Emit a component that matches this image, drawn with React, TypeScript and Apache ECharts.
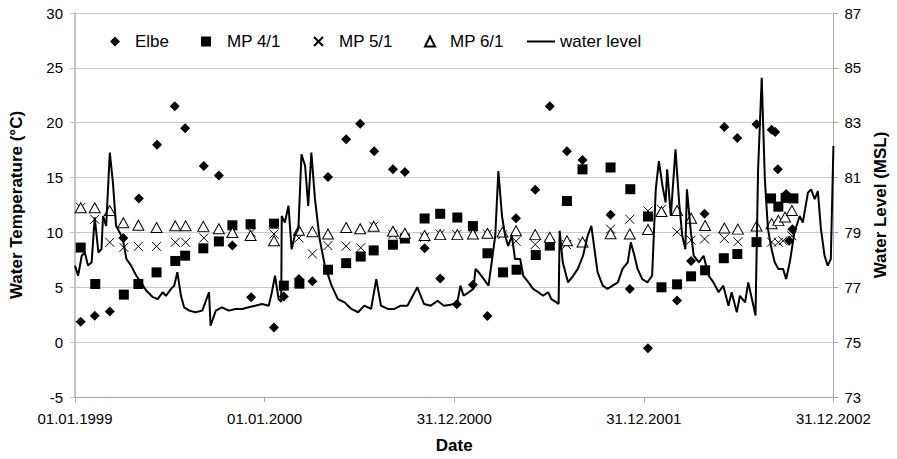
import React, { useEffect, useRef } from "react";
import * as echarts from "echarts";

// Day offsets are counted from 01.01.1999
const BASE_DATE = Date.UTC(1999, 0, 1);
const DAY_MS = 86400000;
const LEVEL_AXIS_BASE = 73; // right axis starts at 73 m MSL

const xAxisMaxDay = 1460;
const xTickStepDays = 365;

const elbeDays = [11, 38, 67, 93, 123, 158, 192, 212, 248, 277, 303, 339, 383, 402, 431, 457, 487, 522, 549, 576, 612, 635, 673, 703, 735, 766, 794, 849, 886, 914, 947, 977, 1031, 1068, 1103, 1159, 1186, 1212, 1250, 1275, 1312, 1341, 1348, 1353, 1369, 1375, 1381];
const elbeTemp = [1.87, 2.4, 2.8, 9.5, 13.1, 18.0, 21.5, 19.5, 16.05, 15.2, 8.8, 4.1, 1.33, 4.15, 5.75, 5.55, 15.05, 18.5, 19.9, 17.4, 15.75, 15.5, 8.55, 5.8, 3.45, 5.22, 2.38, 11.3, 13.9, 21.5, 17.4, 16.6, 11.6, 4.85, -0.55, 3.8, 7.4, 11.7, 19.6, 18.6, 19.85, 19.35, 19.15, 15.75, 13.5, 9.24, 10.3];

const mp41Days = [11, 39, 94, 122, 157, 193, 212, 247, 277, 303, 338, 383, 402, 432, 487, 522, 550, 575, 612, 635, 673, 703, 736, 766, 794, 824, 850, 887, 914, 947, 977, 1031, 1069, 1103, 1129, 1159, 1186, 1213, 1249, 1275, 1312, 1340, 1354, 1368, 1383];
const mp41Temp = [8.62, 5.3, 4.33, 5.3, 6.36, 7.4, 7.88, 8.55, 9.18, 10.65, 10.75, 10.8, 5.15, 5.33, 6.6, 7.2, 7.8, 8.36, 8.88, 9.45, 11.27, 11.7, 11.36, 10.58, 8.1, 6.36, 6.6, 7.94, 8.8, 12.86, 15.75, 15.92, 13.94, 11.45, 5.0, 5.27, 6.0, 6.55, 7.65, 8.03, 9.12, 13.1, 12.35, 13.15, 13.1];

const mp51Days = [11, 38, 67, 94, 122, 157, 193, 213, 248, 303, 339, 383, 431, 457, 487, 522, 550, 575, 612, 635, 673, 703, 735, 766, 794, 823, 849, 886, 914, 946, 977, 1031, 1068, 1103, 1129, 1159, 1186, 1212, 1250, 1276, 1312, 1341, 1354, 1363, 1380];
const mp51Temp = [12.27, 11.2, 9.1, 8.64, 8.73, 8.73, 9.1, 9.1, 9.5, 10.1, 10.0, 9.85, 9.5, 8.05, 8.8, 8.75, 8.6, 10.55, 9.8, 9.4, 9.55, 9.85, 9.8, 9.8, 9.85, 9.8, 9.2, 8.9, 8.94, 8.9, 9.05, 10.3, 11.2, 11.96, 12.1, 10.05, 9.3, 9.4, 9.45, 9.15, 9.1, 9.12, 9.1, 9.24, 9.7];

const mp61Days = [11, 38, 67, 93, 122, 157, 193, 213, 247, 277, 303, 338, 383, 431, 457, 487, 522, 549, 575, 612, 635, 673, 703, 736, 766, 794, 823, 849, 886, 914, 947, 977, 1031, 1068, 1103, 1129, 1159, 1186, 1213, 1250, 1276, 1312, 1341, 1354, 1367, 1380];
const mp61Temp = [12.25, 12.25, 12.0, 10.88, 10.66, 10.45, 10.6, 10.6, 10.55, 10.33, 10.0, 9.72, 9.24, 10.2, 10.07, 9.85, 10.45, 10.33, 10.57, 10.1, 9.92, 9.72, 9.8, 9.8, 9.85, 9.92, 10.03, 10.15, 9.8, 9.55, 9.24, 9.12, 9.88, 9.85, 10.27, 11.9, 12.0, 11.3, 10.63, 10.4, 10.3, 10.58, 10.8, 11.1, 11.4, 12.0];

const waterDays = [
  0, 6, 13, 19, 25, 32, 38, 45, 51, 54,
  60, 67, 73, 79, 86, 92, 99, 108, 118, 127,
  137, 150, 159, 169, 175, 185, 191, 197, 204, 210,
  220, 232, 245, 258, 261, 271, 283, 296, 309, 322,
  334, 347, 360, 373, 379, 385, 392, 397, 398, 404,
  411, 417, 423, 430, 436, 443, 449, 455, 462, 471,
  481, 494, 506, 519, 532, 545, 557, 570, 580, 589,
  602, 615, 627, 640, 659, 672, 685, 698, 710, 723,
  736, 742, 748, 758, 767, 771, 777, 787, 796, 803,
  809, 815, 822, 828, 834, 841, 847, 857, 863, 873,
  882, 892, 901, 911, 917, 927, 931, 933, 939, 949,
  959, 968, 978, 987, 994, 1000, 1006, 1016, 1025, 1035,
  1045, 1054, 1064, 1070, 1077, 1083, 1092, 1102, 1111, 1118,
  1124, 1131, 1137, 1140, 1147, 1156, 1163, 1169, 1175, 1178,
  1185, 1191, 1201, 1210, 1220, 1229, 1239, 1248, 1258, 1264,
  1274, 1280, 1290, 1296, 1306, 1310, 1315, 1322, 1328, 1334,
  1341, 1347, 1354, 1363, 1369, 1376, 1385, 1395, 1401, 1411,
  1417, 1424, 1430, 1436, 1443, 1449, 1455, 1460,
];
const waterLevel = [
  77.79, 77.42, 78.15, 78.27, 77.79, 77.91, 79.55, 78.27, 78.39, 79.6,
  79.24, 81.91, 80.82, 79.24, 79.0, 78.76, 78.03, 77.79, 77.42, 77.18,
  76.88, 76.64, 76.57, 76.82, 76.69, 76.94, 77.06, 77.55, 76.69, 76.27,
  76.15, 76.09, 76.15, 76.82, 75.6, 76.15, 76.27, 76.15, 76.21, 76.21,
  76.27, 76.33, 76.39, 76.33, 76.82, 77.42, 76.57, 76.47, 79.6, 79.36,
  79.97, 78.39, 78.88, 79.12, 81.85, 81.42, 79.97, 81.91, 80.21, 78.76,
  77.79, 77.06, 76.57, 76.45, 76.21, 76.09, 76.33, 76.21, 77.3, 76.33,
  76.21, 76.21, 76.33, 76.33, 77.0, 76.39, 76.33, 76.51, 76.33, 76.36,
  76.45, 77.06, 76.69, 76.82, 76.94, 77.67, 77.55, 77.3, 77.06, 78.03,
  78.88, 81.24, 79.6, 78.88, 78.51, 78.88, 78.03, 78.03, 77.42, 77.18,
  76.94, 76.82, 76.69, 76.82, 76.57, 76.45, 76.39, 79.06, 77.91, 77.18,
  77.42, 77.67, 78.15, 78.88, 79.24, 78.39, 77.55, 77.06, 76.94, 77.06,
  77.18, 77.67, 77.91, 78.64, 78.15, 77.67, 77.3, 77.18, 77.42, 80.57,
  81.6, 80.69, 80.09, 81.3, 79.6, 82.03, 80.09, 78.88, 78.39, 80.57,
  79.12, 78.15, 77.91, 78.15, 77.42, 77.18, 76.82, 77.06, 76.33, 76.82,
  76.09, 76.69, 76.45, 77.18, 76.33, 75.97, 81.3, 84.64, 80.94, 79.12,
  78.39, 77.91, 77.67, 77.67, 77.3, 77.91, 79.0, 79.6, 79.36, 80.45,
  80.57, 80.21, 80.51, 79.12, 78.15, 77.79, 78.03, 82.15,
];

const FONT = "'Liberation Sans', Arial, Helvetica, sans-serif";

function pad2(n: number) {
  return n < 10 ? "0" + n : String(n);
}
function formatDay(d: number) {
  const t = new Date(BASE_DATE + d * DAY_MS);
  return pad2(t.getUTCDate()) + "." + pad2(t.getUTCMonth() + 1) + "." + t.getUTCFullYear();
}

function pairs(days: number[], vals: number[], shift = 0) {
  return days.map((d, i) => [d, vals[i] - shift]);
}

const legendText = { fontFamily: FONT, fontSize: 17, color: "#000" };

function legendItem(name: string, left: number, top: number, w: number, h: number, textPad: number, icon?: string) {
  const item: any = {
    data: [name],
    left,
    top,
    padding: 0,
    itemWidth: w,
    itemHeight: h,
    selectedMode: false,
    textStyle: { ...legendText, padding: [0, 0, 0, textPad] },
  };
  if (icon) item.icon = icon;
  return item;
}

export default function App() {
  const ref = useRef<HTMLDivElement>(null);
  useEffect(() => {
    if (!ref.current) return;
    const chart = echarts.init(ref.current, undefined, { renderer: "svg" });
    const axisGrey = "#a6a6a6";
    const option: any = {
      animation: false,
      backgroundColor: "#ffffff",
      textStyle: { fontFamily: FONT },
      grid: { left: 72, right: 61, top: 13, bottom: 61, containLabel: false },
      legend: [
        legendItem("Elbe", 110, 33, 10, 10, 10),
        legendItem("MP 4/1", 201, 33, 10, 10, 11),
        legendItem("MP 5/1", 313, 33, 9, 9, 11),
        legendItem("MP 6/1", 424, 33, 10, 10, 10),
        legendItem("water level", 527, 33, 28, 2, 0, "rect"),
      ],
      xAxis: {
        type: "value",
        min: 0,
        max: xAxisMaxDay,
        interval: xTickStepDays,
        name: "Date",
        nameLocation: "middle",
        nameGap: 40,
        nameTextStyle: { fontFamily: FONT, fontSize: 17, fontWeight: "bold", color: "#000" },
        axisLine: { show: true, onZero: false, lineStyle: { color: axisGrey, width: 1 } },
        axisTick: { show: true, length: 5, lineStyle: { color: axisGrey } },
        axisLabel: {
          formatter: (v: number) => formatDay(v),
          fontFamily: FONT,
          fontSize: 15,
          color: "#000",
          margin: 14,
          showMinLabel: true,
          showMaxLabel: true,
        },
        splitLine: { show: false },
      },
      yAxis: [
        {
          type: "value",
          min: -5,
          max: 30,
          interval: 5,
          position: "left",
          name: "Water Temperature (°C)",
          nameLocation: "middle",
          nameGap: 50,
          nameRotate: 90,
          nameTextStyle: { fontFamily: FONT, fontSize: 17, fontWeight: "bold", color: "#000" },
          axisLine: { show: true, lineStyle: { color: "#c4c4c4", width: 2 } },
          axisTick: { show: true, length: 5, lineStyle: { color: "#c4c4c4" } },
          axisLabel: { fontFamily: FONT, fontSize: 15, color: "#000", margin: 12 },
          splitLine: { show: true, lineStyle: { color: "#c8c8c8", width: 1 } },
        },
        {
          type: "value",
          min: 0,
          max: 14,
          interval: 2,
          position: "right",
          name: "Water Level (MSL)",
          nameLocation: "middle",
          nameGap: 38,
          nameRotate: 90,
          nameTextStyle: { fontFamily: FONT, fontSize: 17, fontWeight: "bold", color: "#000" },
          axisLine: { show: true, lineStyle: { color: axisGrey, width: 1 } },
          axisTick: { show: true, length: 5, lineStyle: { color: axisGrey } },
          axisLabel: {
            fontFamily: FONT,
            fontSize: 15,
            color: "#000",
            margin: 11,
            formatter: (v: number) => String(v + LEVEL_AXIS_BASE),
          },
          splitLine: { show: false },
        },
      ],
      series: [
        {
          name: "Elbe",
          type: "scatter",
          symbol: "diamond",
          symbolSize: 10,
          itemStyle: { color: "#000", opacity: 1 },
          data: pairs(elbeDays, elbeTemp),
        },
        {
          name: "MP 4/1",
          type: "scatter",
          symbol: "rect",
          symbolSize: 10,
          itemStyle: { color: "#000", opacity: 1 },
          data: pairs(mp41Days, mp41Temp),
        },
        {
          name: "MP 5/1",
          type: "scatter",
          symbol: "path://M0,0L10,10M10,0L0,10",
          symbolSize: 9,
          itemStyle: { color: "rgba(0,0,0,0)", borderColor: "#000", borderWidth: 1, opacity: 1 },
          data: pairs(mp51Days, mp51Temp),
        },
        {
          name: "MP 6/1",
          type: "scatter",
          symbol: "triangle",
          symbolSize: [11, 10],
          itemStyle: { color: "#fff", borderColor: "#000", borderWidth: 1, opacity: 1 },
          data: pairs(mp61Days, mp61Temp),
        },
        {
          name: "water level",
          type: "line",
          yAxisIndex: 1,
          symbol: "none",
          showSymbol: false,
          lineStyle: { color: "#000", width: 2 },
          itemStyle: { color: "#000" },
          data: pairs(waterDays, waterLevel, LEVEL_AXIS_BASE),
        },
      ],
    };
    chart.setOption(option);
    return () => chart.dispose();
  }, []);
  return (
    <div
      ref={ref}
      style={{ position: "fixed", left: 0, top: 0, width: 897, height: 459, background: "#fff" }}
    />
  );
}
